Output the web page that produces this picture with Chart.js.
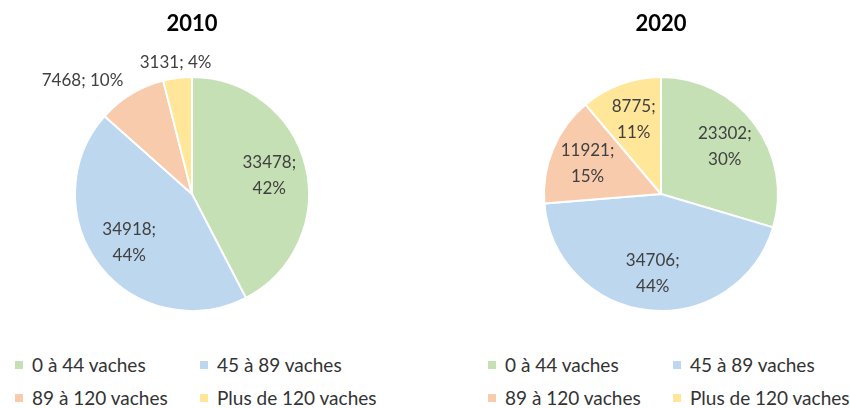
<!DOCTYPE html>
<html><head><meta charset="utf-8">
<script src="https://cdn.jsdelivr.net/npm/chart.js@4"></script>
<style>
html,body{margin:0;padding:0;background:#fff;width:850px;height:408px;overflow:hidden;}
.wrap{position:absolute;top:0;height:320px;}
.legend{position:absolute;top:348px;display:grid;grid-template-columns:185px 185px;font-family:Lato,sans-serif;font-size:19px;color:#333;}
.item{height:33px;line-height:33px;display:flex;align-items:center;white-space:nowrap;}
.sw{width:8px;height:8px;margin-right:9px;flex:none;}
</style></head>
<body>
<div class="wrap" style="left:2px;width:380px"><canvas id="c1" width="380" height="320"></canvas></div>
<div class="wrap" style="left:472px;width:378px"><canvas id="c2" width="378" height="320"></canvas></div>
<div class="legend" id="lg1" style="left:15px"></div>
<div class="legend" id="lg2" style="left:488px"></div>
<script>
const categories = ['0 à 44 vaches', '45 à 89 vaches', '89 à 120 vaches', 'Plus de 120 vaches'];
const years = ['2010', '2020'];
const values2010 = [33478, 34918, 7468, 3131];
const values2020 = [23302, 34706, 11921, 8775];
const pct2010 = [42, 44, 10, 4];
const pct2020 = [30, 44, 15, 11];

const sliceColors = ['#C5E0B4', '#BDD7EE', '#F8CBAD', '#FFE699'];

const sliceLabels = {
  id: 'sliceLabels',
  afterDatasetsDraw(chart, args, opts) {
    const ctx = chart.ctx;
    const ds = chart.data.datasets[0];
    const meta = chart.getDatasetMeta(0);
    const total = ds.data.reduce((a, b) => a + b, 0);
    ctx.save();
    ctx.font = '17px Lato';
    ctx.fillStyle = '#404040';
    ctx.textBaseline = 'middle';
    meta.data.forEach((arc, i) => {
      const p = arc.getProps(['x', 'y', 'startAngle', 'endAngle', 'outerRadius'], true);
      const mid = (p.startAngle + p.endAngle) / 2;
      const c = Math.cos(mid), s = Math.sin(mid);
      const frac = ds.data[i] / total;
      if (frac >= 0.1) {
        const r = p.outerRadius * 0.68;
        const px = p.x + c * r, py = p.y + s * r;
        ctx.textAlign = 'center';
        ctx.fillText(ds.data[i] + ';', px, py - 13);
        ctx.fillText(opts.pcts[i] + '%', px, py + 13);
      } else {
        const r = p.outerRadius * 1.13;
        const px = p.x + c * r, py = p.y + s * r;
        ctx.textAlign = Math.abs(c) < 0.3 ? 'center' : (c < 0 ? 'right' : 'left');
        ctx.fillText(ds.data[i] + '; ' + opts.pcts[i] + '%', px, py);
      }
    });
    ctx.restore();
  }
};

function makeChart(id, year, values, pcts, legendId) {
  const chart = new Chart(document.getElementById(id), {
    type: 'pie',
    data: {
      labels: categories,
      datasets: [{ data: values, backgroundColor: sliceColors, borderColor: '#ffffff', borderWidth: 2 }]
    },
    options: {
      responsive: false,
      animation: false,
      devicePixelRatio: 1,
      layout: { padding: { top: 0, bottom: 8, left: 0, right: 0 } },
      plugins: {
        title: { display: true, text: year, color: '#000', font: { family: 'Lato', size: 22, weight: 'bold', lineHeight: 1.2 }, padding: { top: 11, bottom: 38.6 } },
        legend: { display: false },
        tooltip: { enabled: false },
        sliceLabels: { pcts: pcts }
      }
    },
    plugins: [sliceLabels]
  });
  const lg = document.getElementById(legendId);
  chart.data.labels.forEach((lab, i) => {
    const it = document.createElement('div');
    it.className = 'item';
    const sw = document.createElement('span');
    sw.className = 'sw';
    sw.style.background = chart.data.datasets[0].backgroundColor[i];
    const tx = document.createElement('span');
    tx.textContent = lab;
    it.appendChild(sw); it.appendChild(tx);
    lg.appendChild(it);
  });
  return chart;
}

makeChart('c1', years[0], values2010, pct2010, 'lg1');
makeChart('c2', years[1], values2020, pct2020, 'lg2');
</script>
</body></html>
